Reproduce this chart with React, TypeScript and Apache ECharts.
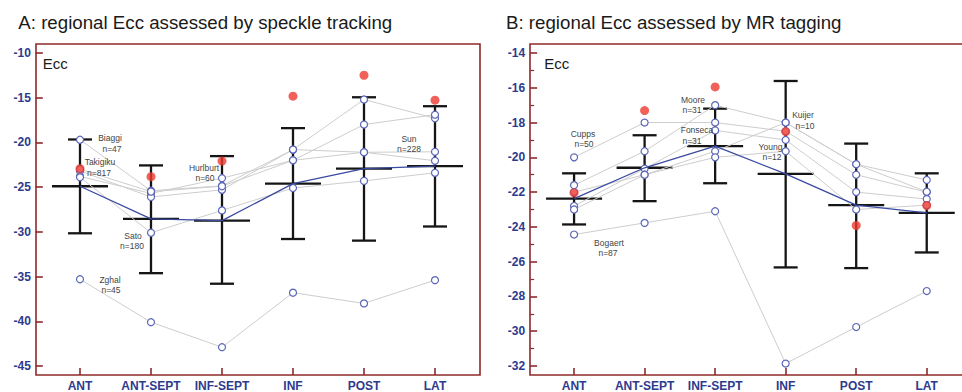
import React, { useEffect, useRef } from "react";
import * as echarts from "echarts";

const CATS = ["ANT", "ANT-SEPT", "INF-SEPT", "INF", "POST", "LAT"];

// Panel A: speckle tracking
const A_MEAN = [-24.9, -28.55, -28.74, -24.6, -22.94, -22.64];
const A_LOW = [-30.16, -34.62, -35.8, -30.8, -30.98, -29.4];
const A_HIGH = [-19.67, -22.57, -21.53, -18.4, -14.95, -15.95];
const A_REF = [-22.94, -23.83, -22.08, -14.83, -12.49, -15.28];
const A_BIAGGI = [-19.7, -25.4, -24.85, -20.8, -15.2, -17.3];
const A_TAKIGIKU = [-23.8, -25.7, -24.0, -22.0, -18.0, -16.9];
const A_HURLBURT = [-23.2, -26.1, -25.3, -20.8, -21.1, -21.05];
const A_SATO = [-23.9, -30.1, -27.6, -25.1, -24.3, -23.4];
const A_SUN = [-23.0, -25.5, -24.9, -22.0, -21.1, -22.05];
const A_ZGHAL = [-35.3, -40.1, -42.9, -36.8, -38.0, -35.4];
const A_STUDIES = [A_BIAGGI, A_TAKIGIKU, A_HURLBURT, A_SATO, A_SUN, A_ZGHAL];

// Panel B: MR tagging
const B_MEAN = [-22.38, -20.6, -19.36, -20.95, -22.75, -23.19];
const B_LOW = [-23.86, -22.52, -21.49, -26.33, -26.37, -25.47];
const B_HIGH = [-20.92, -18.73, -17.2, -15.61, -19.21, -20.92];
const B_REF = [-22.04, -17.31, -15.95, -18.52, -23.92, -22.77];
const B_CUPPS = [-20.0, -18.0, -18.0, -18.5, -21.0, -22.0];
const B_MOORE = [-21.6, -19.65, -17.0, -18.0, -20.4, -21.3];
const B_FONSECA = [-22.8, -20.65, -18.45, -19.0, -22.0, -22.4];
const B_KUIJER = [-22.0, -21.0, -19.65, -18.0, -20.4, -21.98];
const B_YOUNG = [-23.0, -21.0, -20.0, -19.65, -23.0, -22.75];
const B_BOGAERT = [-24.44, -23.77, -23.1, -31.86, -29.76, -27.69];
const B_STUDIES = [B_CUPPS, B_MOORE, B_FONSECA, B_KUIJER, B_YOUNG, B_BOGAERT];

// Axis ranges / ticks
const A_Y = { min: -45, max: -10, interval: 5 };
const B_Y = { min: -32, max: -14, interval: 2 };

// Study annotation texts (name, n) and their pixel anchors
const A_NOTES = [
  { name: "Biaggi", n: "n=47", x: 110, y: 138, nx: 112 },
  { name: "Takigiku", n: "n=817", x: 100, y: 162, nx: 99 },
  { name: "Hurlburt", n: "n=60", x: 204, y: 167.5, nx: 205 },
  { name: "Sato", n: "n=180", x: 133, y: 235.5, nx: 132 },
  { name: "Zghal", n: "n=45", x: 110, y: 279.5, nx: 111 },
  { name: "Sun", n: "n=228", x: 409, y: 138.5, nx: 409 },
];
const B_NOTES = [
  { name: "Cupps", n: "n=50", x: 583, y: 133.5, nx: 584 },
  { name: "Moore", n: "n=31", x: 693, y: 99.5, nx: 692 },
  { name: "Fonseca", n: "n=31", x: 697, y: 130, nx: 692 },
  { name: "Kuijer", n: "n=10", x: 803, y: 115, nx: 805 },
  { name: "Young", n: "n=12", x: 770.5, y: 146.5, nx: 772 },
  { name: "Bogaert", n: "n=87", x: 609, y: 242.5, nx: 608 },
];

const BOX = "#8E2A2A";
const AXIS_TXT = "#2E3A8C";
const FONT = "'Liberation Sans', Arial, sans-serif";

function errorSeries(mean: number[], low: number[], high: number[], idx: number) {
  return {
    type: "custom",
    xAxisIndex: idx,
    yAxisIndex: idx,
    z: 2,
    silent: true,
    encode: { x: 0, y: [1, 2, 3] },
    data: mean.map((m, i) => [i, m, low[i], high[i]]),
    renderItem: (params: any, api: any) => {
      const m = api.coord([api.value(0), api.value(1)]);
      const lo = api.coord([api.value(0), api.value(2)]);
      const hi = api.coord([api.value(0), api.value(3)]);
      const st = { stroke: "#151515", lineWidth: 2.3 };
      const cap = 12;
      const mh = 28;
      return {
        type: "group",
        children: [
          { type: "line", shape: { x1: m[0], y1: hi[1], x2: m[0], y2: lo[1] }, style: st },
          { type: "line", shape: { x1: m[0] - cap, y1: hi[1], x2: m[0] + cap, y2: hi[1] }, style: st },
          { type: "line", shape: { x1: m[0] - cap, y1: lo[1], x2: m[0] + cap, y2: lo[1] }, style: st },
          { type: "line", shape: { x1: m[0] - mh, y1: m[1], x2: m[0] + mh, y2: m[1] }, style: st },
        ],
      };
    },
  };
}

function studySeries(data: number[], idx: number) {
  return {
    type: "line",
    xAxisIndex: idx,
    yAxisIndex: idx,
    z: 3,
    silent: true,
    data,
    symbol: "circle",
    symbolSize: 7,
    showSymbol: true,
    lineStyle: { color: "#CDCDCD", width: 1 },
    itemStyle: { color: "#ffffff", borderColor: "#5A66B8", borderWidth: 1.2 },
  };
}

function meanSeries(data: number[], idx: number) {
  return {
    type: "line",
    xAxisIndex: idx,
    yAxisIndex: idx,
    z: 4,
    silent: true,
    data,
    symbol: "none",
    lineStyle: { color: "#3A4AA0", width: 1.3 },
  };
}

function refSeries(data: number[], idx: number) {
  return {
    type: "scatter",
    xAxisIndex: idx,
    yAxisIndex: idx,
    z: 5,
    silent: true,
    data,
    symbolSize: 9,
    itemStyle: { color: "#EE3A2F" },
  };
}

function xAxis(idx: number) {
  return {
    type: "category",
    gridIndex: idx,
    data: CATS,
    boundaryGap: true,
    offset: 9,
    axisLine: { show: false },
    axisTick: { show: true, inside: true, alignWithLabel: true, interval: 0, length: 7, lineStyle: { color: BOX, width: 1.6 } },
    axisLabel: { color: AXIS_TXT, fontWeight: "bold", fontSize: 12, fontFamily: FONT, margin: 5, interval: 0 },
    splitLine: { show: false },
  };
}

function yAxis(idx: number, r: { min: number; max: number; interval: number }, minor: boolean) {
  return {
    type: "value",
    gridIndex: idx,
    min: r.min,
    max: r.max,
    interval: r.interval,
    offset: 8.7,
    axisLine: { show: false },
    axisTick: { show: true, inside: true, length: 7, lineStyle: { color: BOX, width: 1.6 } },
    minorTick: { show: minor, splitNumber: 2, length: 4, lineStyle: { color: BOX, width: 1.2 } },
    axisLabel: { color: AXIS_TXT, fontWeight: "bold", fontSize: 12, fontFamily: FONT, margin: 5 },
    splitLine: { show: false },
    minorSplitLine: { show: false },
  };
}

function notes(list: typeof A_NOTES) {
  const out: any[] = [];
  list.forEach((d) => {
    out.push({
      type: "text", x: d.x, y: d.y, z: 10,
      style: { text: d.name, fontSize: 8.5, fontFamily: FONT, fill: "#444", align: "center", verticalAlign: "middle" },
    });
    out.push({
      type: "text", x: d.nx, y: d.y + 10.5, z: 10,
      style: { text: d.n, fontSize: 8.5, fontFamily: FONT, fill: "#444", align: "center", verticalAlign: "middle" },
    });
  });
  return out;
}

export default function App() {
  const ref = useRef<HTMLDivElement>(null);
  useEffect(() => {
    if (!ref.current) return;
    const chart = echarts.init(ref.current, undefined, { renderer: "svg" });
    const option: any = {
      animation: false,
      backgroundColor: "#ffffff",
      grid: [
        { left: 44.5, top: 53, width: 426, bottom: 26 },
        { left: 538.8, top: 53, width: 426, bottom: 26 },
      ],
      xAxis: [xAxis(0), xAxis(1)],
      yAxis: [yAxis(0, A_Y, false), yAxis(1, B_Y, true)],
      graphic: [
        { type: "rect", shape: { x: 36, y: 44, width: 444, height: 331 }, style: { fill: "none", stroke: BOX, lineWidth: 1.6 }, z: 1 },
        { type: "rect", shape: { x: 530, y: 44, width: 450, height: 331 }, style: { fill: "none", stroke: BOX, lineWidth: 1.6 }, z: 1 },
        { type: "text", x: 18.3, y: 22, style: { text: "A: regional Ecc assessed by speckle tracking", fontSize: 18.7, fontFamily: FONT, fill: "#1a1a1a", align: "left", verticalAlign: "middle" } },
        { type: "text", x: 506, y: 22, style: { text: "B: regional Ecc assessed by MR tagging", fontSize: 18.7, fontFamily: FONT, fill: "#1a1a1a", align: "left", verticalAlign: "middle" } },
        { type: "text", x: 42.7, y: 63, style: { text: "Ecc", fontSize: 15, fontFamily: FONT, fill: "#1a1a1a", align: "left", verticalAlign: "middle" } },
        { type: "text", x: 544.3, y: 63, style: { text: "Ecc", fontSize: 15, fontFamily: FONT, fill: "#1a1a1a", align: "left", verticalAlign: "middle" } },
        ...notes(A_NOTES),
        ...notes(B_NOTES),
      ],
      series: [
        errorSeries(A_MEAN, A_LOW, A_HIGH, 0),
        ...A_STUDIES.map((s) => studySeries(s, 0)),
        meanSeries(A_MEAN, 0),
        refSeries(A_REF, 0),
        errorSeries(B_MEAN, B_LOW, B_HIGH, 1),
        ...B_STUDIES.map((s) => studySeries(s, 1)),
        meanSeries(B_MEAN, 1),
        refSeries(B_REF, 1),
      ],
    };
    chart.setOption(option);
    return () => chart.dispose();
  }, []);
  return (
    <div
      ref={ref}
      style={{ position: "absolute", left: 0, top: 0, width: 962, height: 392, overflow: "hidden" }}
    />
  );
}
